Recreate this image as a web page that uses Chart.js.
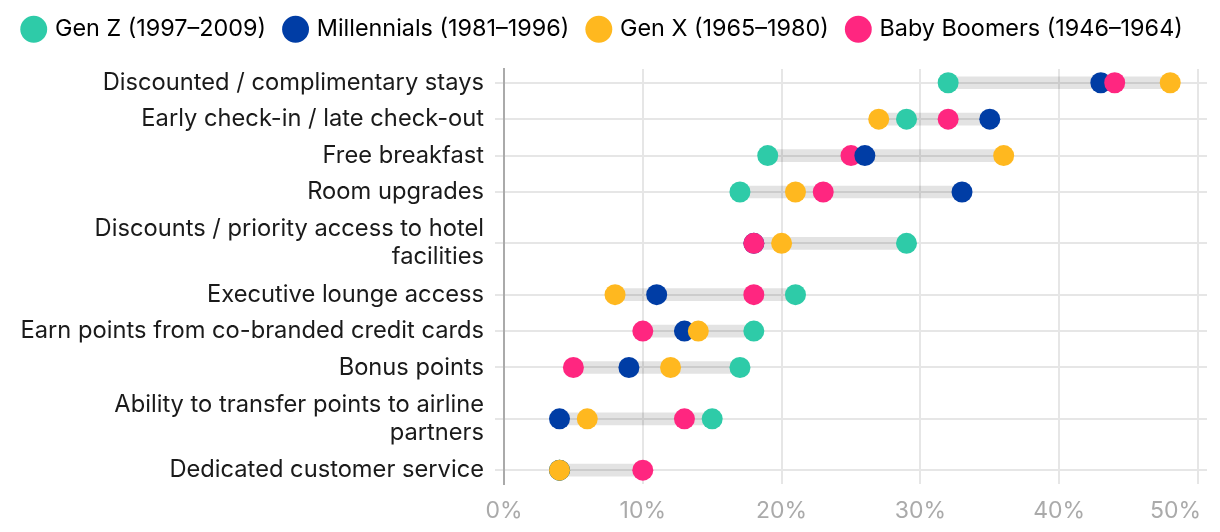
<!DOCTYPE html>
<html>
<head>
<meta charset="utf-8">
<script src="https://cdn.jsdelivr.net/npm/chart.js@4.4.1/dist/chart.umd.min.js"></script>
<style>
    html, body { margin: 0; padding: 0; background: #fff; }
    #wrap { width: 1220px; height: 532px; position: relative; }
</style>
</head>
<body>
<div id="wrap"><canvas id="perksChart"></canvas></div>
<script>
    const categories = [
        'Discounted / complimentary stays',
        'Early check-in / late check-out',
        'Free breakfast',
        'Room upgrades',
        ['Discounts / priority access to hotel', 'facilities'],
        'Executive lounge access',
        'Earn points from co-branded credit cards',
        'Bonus points',
        ['Ability to transfer points to airline', 'partners'],
        'Dedicated customer service',
    ];

    const seriesNames = ['Gen Z (1997–2009)', 'Millennials (1981–1996)', 'Gen X (1965–1980)', 'Baby Boomers (1946–1964)'];
    const genZ = [32, 29, 19, 17, 29, 21, 18, 17, 15, 4];
    const millennials = [43, 35, 26, 33, 18, 11, 13, 9, 4, 4];
    const genX = [48, 27, 36, 21, 20, 8, 14, 12, 6, 4];
    const boomers = [44, 32, 25, 23, 18, 18, 10, 5, 13, 10];
    const xTicks = [0, 10, 20, 30, 40, 50];

    const seriesColors = ['#2ecba8', '#003da5', '#ffb81f', '#ff2680'];
    const allSeries = [genZ, millennials, genX, boomers];
    const FONT = 'Inter, "Noto Sans", sans-serif';

    // two-line labels get a taller row, like the original
    const rowUnits = categories.map((c) => (Array.isArray(c) ? 1.82 : 1));
    const rowPos = [0];
    for (let i = 1; i < rowUnits.length; i++) {
        rowPos.push(rowPos[i - 1] + (rowUnits[i - 1] + rowUnits[i]) / 2);
    }
    const edgePad = 0.38;

    // gray range bar per row
    const rangeData = categories.map((c, i) => {
        const vals = allSeries.map((s) => s[i]);
        return { y: rowPos[i], x: [Math.min(...vals), Math.max(...vals)] };
    });

    // dots are stacked left-to-right so the higher value sits on top
    const ranked = categories.map((c, i) =>
        allSeries
            .map((s, k) => ({ v: s[i], k }))
            .sort((a, b) => a.v - b.v)
    );
    const dotLayers = [0, 1, 2, 3].map((r) => ({
        type: 'scatter',
        order: 4 - r,
        data: ranked.map((row, i) => ({ x: row[r].v, y: rowPos[i] })),
        pointBackgroundColor: ranked.map((row) => seriesColors[row[r].k]),
        pointBorderWidth: 0,
        pointRadius: 10.5,
        pointHoverRadius: 10.5,
    }));

    const legendGap = {
        id: 'legendGap',
        beforeInit(chart) {
            const fit = chart.legend.fit;
            chart.legend.fit = function () {
                fit.bind(chart.legend)();
                this.height += 18;
            };
        },
    };

    new Chart(document.getElementById('perksChart').getContext('2d'), {
        type: 'bar',
        data: {
            datasets: [
                {
                    type: 'bar',
                    order: 10,
                    data: rangeData,
                    backgroundColor: 'rgba(0, 0, 0, 0.11)',
                    borderWidth: 0,
                    barThickness: 12,
                },
                ...dotLayers,
            ],
        },
        options: {
            indexAxis: 'y',
            responsive: true,
            maintainAspectRatio: false,
            animation: false,
            layout: {
                padding: { top: -2.5, left: 0, right: 13, bottom: 7 },
            },
            scales: {
                x: {
                    type: 'linear',
                    min: 0,
                    max: 50.65,
                    offset: false,
                    afterBuildTicks(scale) {
                        scale.ticks = xTicks.map((v) => ({ value: v }));
                    },
                    afterFit(scale) {
                        scale.paddingRight = 0;
                        scale.paddingLeft = 0;
                        scale.height = 41;
                    },
                    grid: { color: '#e6e6e6', lineWidth: 2, drawTicks: false, offset: false },
                    border: { display: false },
                    ticks: {
                        color: '#aaaaaa',
                        padding: 13,
                        font: { family: FONT, size: 23 },
                        // last label sits left of its gridline, as in the original
                        callback: (v, i, ticks) => v + '%' + (i === ticks.length - 1 ? '\u2007\u2007\u2007' : ''),
                    },
                },
                y: {
                    type: 'linear',
                    reverse: true,
                    min: -edgePad,
                    max: rowPos[rowPos.length - 1] + edgePad,
                    offset: false,
                    afterBuildTicks(scale) {
                        scale.ticks = rowPos.map((v) => ({ value: v }));
                    },
                    afterFit(scale) {
                        scale.width = 504;
                    },
                    grid: { color: '#e6e6e6', lineWidth: 2, tickLength: 9, offset: false },
                    border: { color: '#aaaaaa', width: 2 },
                    ticks: {
                        color: '#1a1a1a',
                        padding: 11,
                        autoSkip: false,
                        font: { family: FONT, size: 23.7, lineHeight: 1.18 },
                        callback(value, index) {
                            return categories[index];
                        },
                    },
                },
            },
            plugins: {
                legend: {
                    display: true,
                    position: 'top',
                    onClick: null,
                    labels: {
                        color: '#1a1a1a',
                        font: { family: FONT, size: 23.4 },
                        usePointStyle: true,
                        boxWidth: 19,
                        boxHeight: 19,
                        padding: 20,
                        generateLabels() {
                            return seriesNames.map((name, k) => ({
                                text: name,
                                fillStyle: seriesColors[k],
                                strokeStyle: seriesColors[k],
                                lineWidth: 0,
                                pointStyle: 'circle',
                                hidden: false,
                                datasetIndex: k,
                            }));
                        },
                    },
                },
                tooltip: { enabled: false },
            },
        },
        plugins: [legendGap],
    });
</script>
</body>
</html>
